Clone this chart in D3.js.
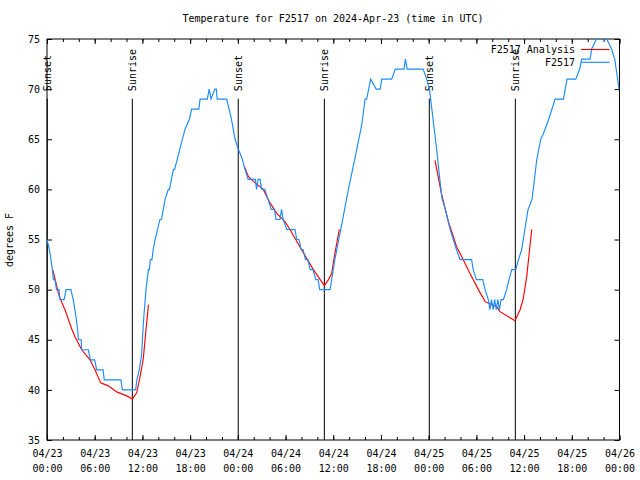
<!DOCTYPE html>
<html><head><meta charset="utf-8">
<script src="https://cdn.jsdelivr.net/npm/d3@7"></script>
<style>body{margin:0;background:#fff}svg{display:block}</style>
</head><body><svg id="c" width="640" height="480"></svg>
<script>
const title = "Temperature for F2517 on 2024-Apr-23 (time in UTC)";
const yLabel = "degrees F";
const seriesNames = ["F2517 Analysis", "F2517"];
const seriesColors = ["#ff0000", "#1a8cff"];
const yTicks = [35, 40, 45, 50, 55, 60, 65, 70, 75];
const xMajorHours = [0, 6, 12, 18, 24, 30, 36, 42, 48, 54, 60, 66, 72];
const xMinorHours = d3.range(0, 73, 2);
const sunsetHours = [0.03, 24.05, 48.08];
const sunriseHours = [10.73, 34.88, 58.9];

// Observed (F2517), hours after 2024-04-23 00:00 UTC
const obsHours = [0.0,0.3,0.5,0.67,0.8,1.0,1.2,1.5,1.64,2.15,2.4,3.0,3.3,3.5,3.7,3.85,3.95,4.3,4.36,5.2,5.45,6.0,6.25,7.05,7.2,9.3,9.47,11.15,
  11.3,11.6,11.9,12.0,12.15,12.3,12.45,12.6,12.75,12.87,13.0,13.2,13.35,13.6,14.2,14.4,14.85,15.26,15.4,15.9,16.05,16.7,17.36,17.9,18.2,19.1,19.25,20.16,20.4,20.63,21.1,21.3,21.4,22.6,22.9,23.2,23.65,24.07,24.57,24.9,25.3,26.2,26.35,26.55,26.8,27.0,27.4,27.8,28.2,28.6,28.8,29.3,29.5,29.7,30.15,31.2,31.4,31.7,31.95,32.2,32.5,32.8,33.1,33.45,33.8,34.1,34.3,35.6,
  35.8,36.2,37.07,37.9,38.7,39.6,40.0,40.2,40.7,41.4,41.9,42.1,43.35,43.8,44.9,45.07,45.3,47.3,47.75,48.1,48.4,48.7,49.0,49.4,49.7,50.1,50.4,50.7,51.1,51.5,51.95,53.4,53.6,54.0,54.8,55.1,55.5,
  55.7,55.9,56.1,56.3,56.5,56.7,56.9,57.1,57.4,57.8,58.1,58.45,58.95,59.3,59.7,60.1,60.5,61.0,61.3,61.6,62.1,62.4,63.1,63.9,64.95,65.4,66.5,67.0,67.25,68.3,68.5,69.1,70.4,71.0,71.4,71.95];
const obsTemps = [55,54,53,52,51,51,50,50,49,49,50,50,49,48,47,46,45,45,44,44,43,43,42,42,41,41,40,40,
  41,42,43.5,45,47,48.5,50,51,52,52,53,53,54,55,57,57,59,60,60,62,62,64,66,67,68,68,69,69,70,69,70,70,69,69,68,67,65,64,63,62,61,61,60,61,61,60,60,59,58,58,57,57,58,57,56,56,55,55,54,54,53,53,52,52,51,51,50,50,
  51,53,56.5,60,63,66.5,69,69,71,70,70,71,71,72,72,73,72,72,71,70,68,66,64,61,59,58,57,56,55,54,53,53,52,51,51,50,49,
  48,49,48,49,48,49,48,49,49,50,51,52,52,53,54,56,58,59,61,63,65,65.5,67,69,69,71,71,72,73,73,74,75,75,74,73,70];

// Analysis (F2517 Analysis), null separates segments
const anaHours = [0.72,1.55,2.26,3.1,3.52,4.36,5.41,6.04,6.75,7.71,8.77,10.03,10.73,11.28,11.7,12.11,12.45,12.76, null,
  24.81,25.32,25.95,27.2,28.0,28.9,29.9,30.56,32.0,33.5,34.88,35.4,35.8,36.2,36.77, null,
  48.8,49.6,50.47,51.1,51.5,52.15,53.2,54.25,55.1,56.55,56.97,58.86,59.5,59.9,60.33,60.96];
const anaTemps = [52,49.3,48,46.1,45.3,44,43,42,40.7,40.4,39.8,39.4,39.1,39.7,41.3,43.1,46,48.5, null,
  62.3,61.3,60.8,60,58.7,57.6,56.8,56,54,52,50.4,51,51.6,53.6,56, null,
  62.9,59.6,56.8,55.3,54.3,53.3,51.6,50,48.8,48.3,47.8,46.9,48,49.1,51.3,56];

const FONT = "'DejaVu Sans Mono', 'Liberation Mono', monospace";
const FS = "10px";
const t0 = Date.UTC(2024, 3, 23);
const hToDate = h => new Date(t0 + h * 3600e3);

const svg = d3.select("#c");
svg.append("rect").attr("width", 640).attr("height", 480).attr("fill", "#fff");

const L = 47, R = 619.5, T = 39, B = 440;
const x = d3.scaleUtc().domain([hToDate(0), hToDate(72)]).range([L, R]);
const y = d3.scaleLinear().domain([35, 75]).range([B, T]);

// ticks: bottom & top
const mk = (axis, sel, tv, size) => sel.call(axis(x).tickValues(tv.map(hToDate)).tickSize(size).tickFormat("")).call(g => g.select(".domain").remove());
const gb = svg.append("g").attr("transform", `translate(0,${B})`);
mk(d3.axisBottom, gb, xMinorHours, -3);
const gbM = svg.append("g").attr("transform", `translate(0,${B})`);
gbM.call(d3.axisBottom(x).tickValues(xMajorHours.map(hToDate)).tickSize(-5).tickFormat(d => ""))
  .call(g => g.select(".domain").remove());
gbM.selectAll(".tick text").each(function(d) {
  const t = d3.select(this);
  t.attr("y", 0).attr("dy", null).attr("fill", "#000")
   .style("font-family", FONT).style("font-size", FS);
  t.append("tspan").attr("x", 0).attr("y", 16.5).text(d3.utcFormat("%m/%d")(d));
  t.append("tspan").attr("x", 0).attr("y", 31.5).text(d3.utcFormat("%H:%M")(d));
});
const gt = svg.append("g").attr("transform", `translate(0,${T})`);
mk(d3.axisTop, gt, xMinorHours, -3);
const gtM = svg.append("g").attr("transform", `translate(0,${T})`);
mk(d3.axisTop, gtM, xMajorHours, -5);

// y axis
const gl = svg.append("g").attr("transform", `translate(${L},0)`);
gl.call(d3.axisLeft(y).tickValues(yTicks).tickSize(-5).tickPadding(7).tickFormat(d3.format("d")))
  .call(g => g.select(".domain").remove());
gl.selectAll(".tick text").attr("fill", "#000").style("font-family", FONT).style("font-size", FS).attr("x", -7);
const gr = svg.append("g").attr("transform", `translate(${R},0)`);
gr.call(d3.axisRight(y).tickValues(yTicks).tickSize(-5).tickFormat(""))
  .call(g => g.select(".domain").remove());
svg.selectAll(".tick line").attr("stroke", "#000");

// border
svg.append("rect").attr("x", L).attr("y", T).attr("width", R - L).attr("height", B - T)
  .attr("fill", "none").attr("stroke", "#000").attr("stroke-width", 1);

// sunrise/sunset lines and labels
const events = sunsetHours.map(h => ({h, name: "Sunset"})).concat(sunriseHours.map(h => ({h, name: "Sunrise"})));
const eg = svg.append("g");
events.forEach(e => {
  const xx = x(hToDate(e.h));
  eg.append("line").attr("x1", xx).attr("x2", xx).attr("y1", y(69.05)).attr("y2", y(35))
    .attr("stroke", "#000").attr("stroke-width", 1);
  eg.append("text").attr("transform", `translate(${xx + 4},${y(69.8)}) rotate(-90)`)
    .attr("text-anchor", "start").style("font-family", FONT).style("font-size", FS).attr("fill", "#000")
    .text(e.name);
});

// series
const clip = svg.append("clipPath").attr("id", "pc").append("rect")
  .attr("x", L).attr("y", T).attr("width", R - L).attr("height", B - T);
const anaData = anaHours.map((h, i) => [h, anaTemps[i]]);
const obsData = obsHours.map((h, i) => [h, obsTemps[i]]);
const line = d3.line().defined(d => d[0] != null && d[1] != null)
  .x(d => x(hToDate(d[0]))).y(d => y(d[1]));
svg.append("path").datum(anaData).attr("d", line).attr("fill", "none")
  .attr("stroke", seriesColors[0]).attr("stroke-width", 1.15).attr("clip-path", "url(#pc)");
svg.append("path").datum(obsData).attr("d", line).attr("fill", "none")
  .attr("stroke", seriesColors[1]).attr("stroke-width", 1.15).attr("clip-path", "url(#pc)");

// legend
const lg = svg.append("g");
seriesNames.forEach((n, i) => {
  const ly = 49.5 + i * 12.8;
  lg.append("text").attr("x", 575).attr("y", ly).attr("dy", "0.35em").attr("text-anchor", "end")
    .style("font-family", FONT).style("font-size", FS).attr("fill", "#000").text(n);
  lg.append("line").attr("x1", 581).attr("x2", 609.5).attr("y1", ly).attr("y2", ly)
    .attr("stroke", seriesColors[i]).attr("stroke-width", 1.15);
});

// title and y label
svg.append("text").attr("x", 333).attr("y", 22).attr("text-anchor", "middle")
  .style("font-family", FONT).style("font-size", FS).attr("fill", "#000").text(title);
svg.append("text").attr("transform", `translate(13,240) rotate(-90)`).attr("text-anchor", "middle")
  .style("font-family", FONT).style("font-size", FS).attr("fill", "#000").text(yLabel);
</script></body></html>
